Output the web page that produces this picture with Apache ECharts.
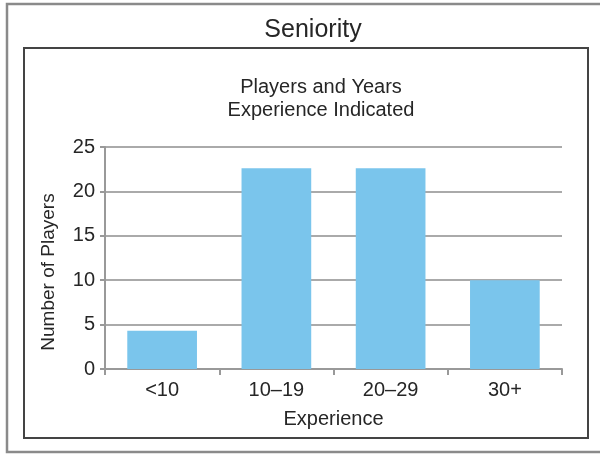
<!DOCTYPE html>
<html><head><meta charset="utf-8">
<script src="https://cdn.jsdelivr.net/npm/echarts@6/dist/echarts.min.js"></script>
<style>html,body{margin:0;padding:0;background:#fff}#c{width:600px;height:454px}</style>
</head><body><div id="c"></div>
<script>
const chartTitle = 'Seniority';
const subTitle = 'Players and Years\nExperience Indicated';
const categories = ['<10', '10\u201319', '20\u201329', '30+'];
const players = [4.3, 22.6, 22.6, 10];
const yTicks = [0, 5, 10, 15, 20, 25];
const xName = 'Experience';
const yName = 'Number of Players';

const FONT = '"Liberation Sans", Arial, sans-serif';
const TXT = '#262626';
const chart = echarts.init(document.getElementById('c'), null, {renderer: 'canvas'});
chart.setOption({
  animation: false,
  backgroundColor: '#fff',
  graphic: [
    {type: 'rect', shape: {x: 7, y: 4, width: 620, height: 448}, style: {fill: null, stroke: '#8a8a8a', lineWidth: 2.5}, silent: true},
    {type: 'rect', shape: {x: 24, y: 48, width: 564, height: 390}, style: {fill: null, stroke: '#444', lineWidth: 2}, silent: true}
  ],
  title: [
    {text: chartTitle, left: 308, top: 13, textAlign: 'center',
     textStyle: {fontFamily: FONT, fontSize: 25, fontWeight: 'normal', color: TXT}},
    {text: subTitle, left: 316, top: 71, textAlign: 'center',
     textStyle: {fontFamily: FONT, fontSize: 20, fontWeight: 'normal', color: TXT, lineHeight: 23}}
  ],
  grid: {left: 105, right: 38, top: 147, bottom: 85, containLabel: false},
  xAxis: {
    type: 'category', data: categories,
    name: xName, nameLocation: 'middle', nameGap: 40,
    nameTextStyle: {fontFamily: FONT, fontSize: 20, color: TXT},
    axisLine: {lineStyle: {color: '#999', width: 2}},
    axisTick: {show: true, length: 6, lineStyle: {color: '#999', width: 2}},
    axisLabel: {fontFamily: FONT, fontSize: 20, color: TXT, margin: 11}
  },
  yAxis: {
    type: 'value', min: 0, max: 25, interval: 5,
    name: yName, nameLocation: 'middle', nameGap: 47,
    nameTextStyle: {fontFamily: FONT, fontSize: 19, color: TXT, padding: [0, 28, 0, 0]},
    axisLine: {show: true, lineStyle: {color: '#999', width: 2}},
    axisTick: {show: true, length: 5, lineStyle: {color: '#999', width: 2}},
    axisLabel: {fontFamily: FONT, fontSize: 20, color: TXT, margin: 10,
      formatter: v => yTicks.includes(v) ? String(v) : ''},
    splitLine: {show: true, lineStyle: {color: '#aaa', width: 2}}
  },
  series: [{
    type: 'bar', data: players, barCategoryGap: '39%',
    itemStyle: {color: '#7AC5EC'}
  }]
});
</script></body></html>
